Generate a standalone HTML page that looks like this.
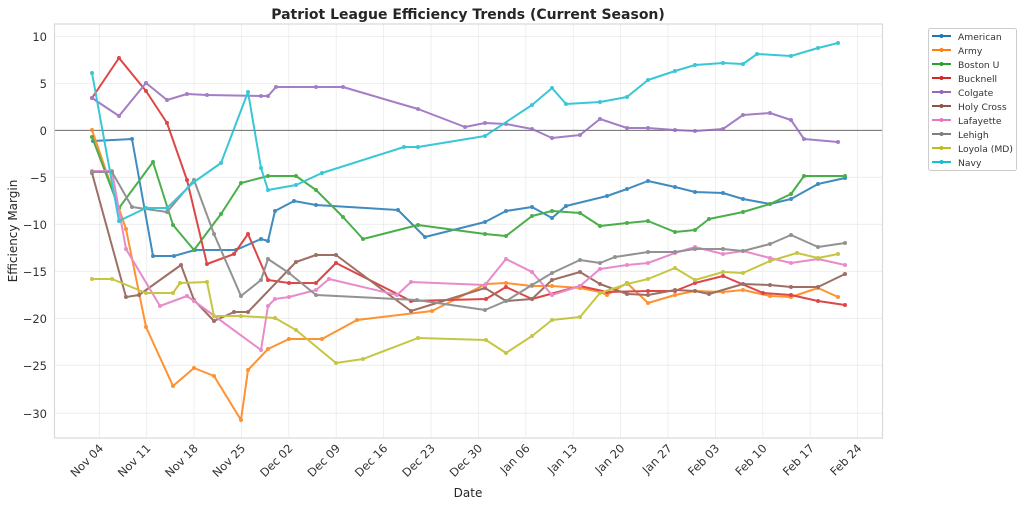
<!DOCTYPE html>
<html><head><meta charset="utf-8"><style>
body{margin:0;background:#fff;font-family:"DejaVu Sans",sans-serif;}
</style></head><body>
<svg width="1024" height="506" xmlns="http://www.w3.org/2000/svg" font-family="DejaVu Sans, sans-serif">
<defs>
<marker id="m" viewBox="0 0 4 4" refX="2" refY="2" markerWidth="2" markerHeight="2" markerUnits="strokeWidth"><circle cx="2" cy="2" r="2" fill="context-stroke"/></marker>
</defs>
<text x="468" y="19" text-anchor="middle" font-size="14" font-weight="bold" fill="#262626">Patriot League Efficiency Trends (Current Season)</text>
<g stroke="#ebebeb" stroke-width="0.8">
<line x1="55" x2="882" y1="36.5" y2="36.5"/><line x1="55" x2="882" y1="83.5" y2="83.5"/><line x1="55" x2="882" y1="177.3" y2="177.3"/><line x1="55" x2="882" y1="224.3" y2="224.3"/><line x1="55" x2="882" y1="271.3" y2="271.3"/><line x1="55" x2="882" y1="318.3" y2="318.3"/><line x1="55" x2="882" y1="365.3" y2="365.3"/><line x1="55" x2="882" y1="413.3" y2="413.3"/>
<line y1="24" y2="438" x1="99.3" x2="99.3"/><line y1="24" y2="438" x1="146.7" x2="146.7"/><line y1="24" y2="438" x1="194" x2="194"/><line y1="24" y2="438" x1="241.4" x2="241.4"/><line y1="24" y2="438" x1="288.8" x2="288.8"/><line y1="24" y2="438" x1="336.2" x2="336.2"/><line y1="24" y2="438" x1="383.6" x2="383.6"/><line y1="24" y2="438" x1="431" x2="431"/><line y1="24" y2="438" x1="478.4" x2="478.4"/><line y1="24" y2="438" x1="525.8" x2="525.8"/><line y1="24" y2="438" x1="573.2" x2="573.2"/><line y1="24" y2="438" x1="620.6" x2="620.6"/><line y1="24" y2="438" x1="668" x2="668"/><line y1="24" y2="438" x1="715.4" x2="715.4"/><line y1="24" y2="438" x1="762.8" x2="762.8"/><line y1="24" y2="438" x1="810.2" x2="810.2"/><line y1="24" y2="438" x1="857.6" x2="857.6"/>
</g>
<rect x="54.5" y="24" width="828" height="414" fill="none" stroke="#d9d9d9" stroke-width="1.2"/>
<line x1="55" x2="882" y1="130.3" y2="130.3" stroke="#555" stroke-width="0.9"/>
<g font-size="11.5" fill="#333" text-anchor="end">
<text x="47" y="41">10</text><text x="47" y="88">5</text><text x="47" y="134.8">0</text><text x="47" y="181.8">−5</text><text x="47" y="228.8">−10</text><text x="47" y="275.8">−15</text><text x="47" y="322.8">−20</text><text x="47" y="369.8">−25</text><text x="47" y="417.8">−30</text>
</g>
<g font-size="11.5" fill="#333" text-anchor="end">
<text transform="translate(104,449) rotate(-45)">Nov 04</text><text transform="translate(151.4,449) rotate(-45)">Nov 11</text><text transform="translate(198.7,449) rotate(-45)">Nov 18</text><text transform="translate(246.1,449) rotate(-45)">Nov 25</text><text transform="translate(293.5,449) rotate(-45)">Dec 02</text><text transform="translate(340.9,449) rotate(-45)">Dec 09</text><text transform="translate(388.3,449) rotate(-45)">Dec 16</text><text transform="translate(435.7,449) rotate(-45)">Dec 23</text><text transform="translate(483.1,449) rotate(-45)">Dec 30</text><text transform="translate(530.5,449) rotate(-45)">Jan 06</text><text transform="translate(577.9,449) rotate(-45)">Jan 13</text><text transform="translate(625.3,449) rotate(-45)">Jan 20</text><text transform="translate(672.7,449) rotate(-45)">Jan 27</text><text transform="translate(720.1,449) rotate(-45)">Feb 03</text><text transform="translate(767.5,449) rotate(-45)">Feb 10</text><text transform="translate(814.9,449) rotate(-45)">Feb 17</text><text transform="translate(862.3,449) rotate(-45)">Feb 24</text>
</g>
<text x="468" y="497" text-anchor="middle" font-size="12" fill="#262626">Date</text>
<text transform="translate(17,231) rotate(-90)" text-anchor="middle" font-size="12" fill="#262626">Efficiency Margin</text>
<g fill="none" stroke-width="2" stroke-linejoin="round" opacity="0.85" marker-start="url(#m)" marker-mid="url(#m)" marker-end="url(#m)">
<polyline stroke="#1f77b4" points="93,141 132,139 153,256 174,256 195,250 236,250 261,239 268,241 275,211 294,201 316,205 398,210 425,237 485,222 506,211 532,207 552,218 566,206 607,196 627,189 648,181 675,187 695,192 723,193 743,199 770,204 791,199 818,184 845,178"/>
<polyline stroke="#ff7f0e" points="92,130 126,229 146,327 173,386 194,368 214,376 241,420 248,370 268,349 289,339 322,339 357,320 432,311 486,284 506,283 532,286 552,286 580,288 600,292 607,295 627,283 648,303 675,295 695,291 723,292 743,290 770,296 791,297 818,288 838,297"/>
<polyline stroke="#2ca02c" points="92,137 119,208 153,162 173,225 194,250 221,214 241,183 268,176 296,176 316,190 343,217 363,239 418,225 485,234 506,236 532,216 552,211 580,213 600,226 627,223 648,221 675,232 695,230 709,219 743,212 770,204 791,194 804,176 845,176"/>
<polyline stroke="#d62728" points="92,98 119,58 146,91 167,123 187,180 207,264 234,254 248,234 268,280 289,283 316,283 336,263 411,301 486,299 506,287 532,299 580,286 607,292 648,291 675,291 695,283 723,276 763,293 791,295 818,301 845,305"/>
<polyline stroke="#9467bd" points="92,98 119,116 146,83 167,100 187,94 207,95 261,96 268,96 276,87 316,87 343,87 418,109 465,127 485,123 506,124 532,129 552,138 580,135 600,119 627,128 648,128 675,130 695,131 723,129 743,115 770,113 791,120 804,139 838,142"/>
<polyline stroke="#8c564b" points="92,173 126,297 139,295 181,265 194,300 214,321 234,312 248,312 296,262 316,255 336,255 411,311 485,288 506,301 532,299 552,280 580,272 600,284 627,294 648,295 675,290 695,291 709,294 743,284 770,285 791,287 818,287 845,274"/>
<polyline stroke="#e377c2" points="92,171 112,171 126,249 160,306 187,296 194,301 261,350 268,306 275,299 289,297 316,290 329,279 397,295 411,282 485,285 506,259 532,272 552,295 580,286 600,269 627,265 648,263 675,253 695,247 723,254 743,251 770,258 791,263 818,259 845,265"/>
<polyline stroke="#7f7f7f" points="92,172 112,172 132,207 167,212 194,180 214,234 241,296 261,280 268,259 289,273 316,295 417,300 485,310 506,301 532,285 552,273 580,260 600,263 615,257 648,252 675,252 695,249 723,249 743,251 770,244 791,235 818,247 845,243"/>
<polyline stroke="#bcbd22" points="92,279 112,279 146,293 173,293 180,283 207,282 214,316 241,316 275,318 296,330 336,363 363,359 418,338 486,340 506,353 532,336 552,320 580,317 600,293 627,284 648,279 675,268 695,280 723,272 743,273 770,261 797,253 818,258 838,254"/>
<polyline stroke="#17becf" points="92,73 119,221 146,208 167,208 194,182 221,163 248,92 261,168 268,190 296,185 322,173 404,147 418,147 485,136 532,105 552,88 566,104 600,102 627,97 648,80 675,71 695,65 723,63 743,64 757,54 791,56 818,48 838,43"/>
</g>
<rect x="928.5" y="28.5" width="88" height="142" fill="#fff" stroke="#ccc" rx="2"/>
<g stroke-width="2" marker-mid="url(#m)">
<polyline points="932,36 941.5,36 951,36" stroke="#1f77b4"/><polyline points="932,50 941.5,50 951,50" stroke="#ff7f0e"/><polyline points="932,64 941.5,64 951,64" stroke="#2ca02c"/><polyline points="932,78 941.5,78 951,78" stroke="#d62728"/><polyline points="932,92 941.5,92 951,92" stroke="#9467bd"/><polyline points="932,106 941.5,106 951,106" stroke="#8c564b"/><polyline points="932,120 941.5,120 951,120" stroke="#e377c2"/><polyline points="932,134 941.5,134 951,134" stroke="#7f7f7f"/><polyline points="932,148 941.5,148 951,148" stroke="#bcbd22"/><polyline points="932,162 941.5,162 951,162" stroke="#17becf"/>
</g>
<g font-size="9.2" fill="#333">
<text x="958" y="40">American</text><text x="958" y="54">Army</text><text x="958" y="68">Boston U</text><text x="958" y="82">Bucknell</text><text x="958" y="96">Colgate</text><text x="958" y="110">Holy Cross</text><text x="958" y="124">Lafayette</text><text x="958" y="138">Lehigh</text><text x="958" y="152">Loyola (MD)</text><text x="958" y="166">Navy</text>
</g>
</svg>
</body></html>
